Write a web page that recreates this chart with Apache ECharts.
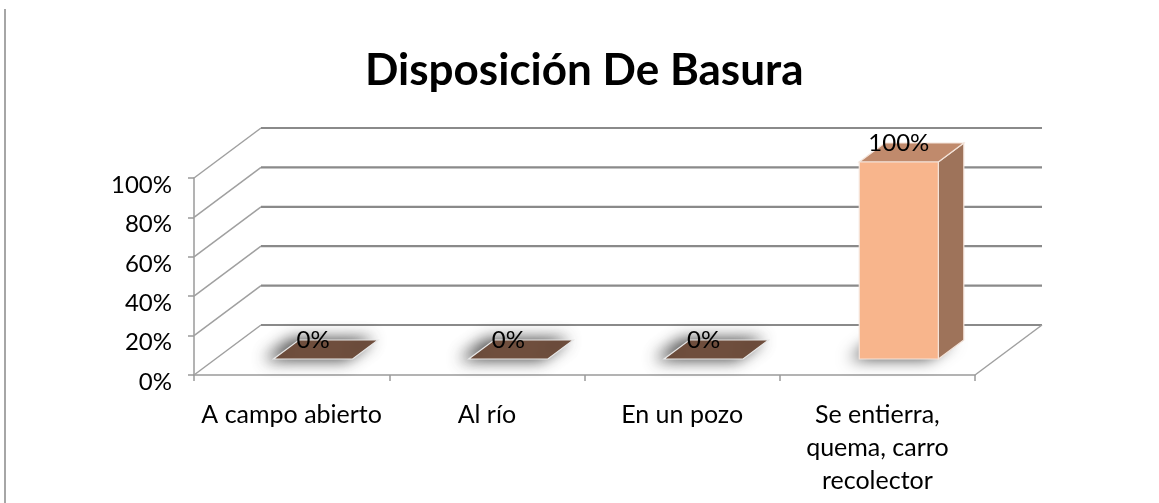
<!DOCTYPE html>
<html><head><meta charset="utf-8">
<script src="https://cdn.jsdelivr.net/npm/echarts@6/dist/echarts.min.js"></script>
<style>html,body{margin:0;padding:0;background:#fff}#c{width:1159px;height:503px}</style>
</head><body><div id="c"></div>
<script>
// ---- data ----
const categories = ['A campo abierto', 'Al río', 'En un pozo', 'Se entierra,\nquema, carro\nrecolector'];
const values = [0, 0, 0, 1];
const valueLabels = ['0%', '0%', '0%', '100%'];
const yTicks = [0, 0.2, 0.4, 0.6, 0.8, 1];

// ---- 3D look (styling constants) ----
const DEPTH_X = 67, DEPTH_Y = 50;
const BAR_FRONT = 0.32, BAR_DEPTH = 0.38, BAR_W = 0.405;
const FONT = 'Lato';

const chart = echarts.init(document.getElementById('c'));

function renderWall(params, api) {
  const v = api.value(1);
  const p = api.coord([0, v]);
  const catW = api.size([1, 0])[0];
  const x0 = p[0] - catW / 2;
  const x1 = api.coord([categories.length - 1, v])[0] + catW / 2;
  const y = p[1];
  const children = [
    { type: 'line', shape: { x1: x0, y1: y, x2: x0 + DEPTH_X, y2: y - DEPTH_Y }, style: { stroke: '#a0a0a0', lineWidth: 1.5 } },
    { type: 'line', shape: { x1: x0 + DEPTH_X, y1: y - DEPTH_Y, x2: x1 + DEPTH_X, y2: y - DEPTH_Y }, style: { stroke: '#8a8a8a', lineWidth: 2.2 } }
  ];
  if (v === 0) {
    children.push({ type: 'line', shape: { x1: x1, y1: y, x2: x1 + DEPTH_X, y2: y - DEPTH_Y }, style: { stroke: '#a0a0a0', lineWidth: 1.5 } });
  }
  return { type: 'group', children };
}

function renderBar(params, api) {
  const i = api.value(0), v = api.value(1);
  const base = api.coord([i, 0]);
  const top = api.coord([i, v]);
  const catW = api.size([1, 0])[0];
  const w = catW * BAR_W;
  const fx = base[0] + BAR_FRONT * DEPTH_X;
  const off = BAR_FRONT * DEPTH_Y;
  const xl = fx - w / 2, xr = fx + w / 2;
  const yb = base[1] - off, yt = top[1] - off;
  const dx = BAR_DEPTH * DEPTH_X, dy = BAR_DEPTH * DEPTH_Y;
  const children = [];
  const edge = '#f4e4da';
  if (v > 0) {
    // floor shadow
    children.push({ type: 'polygon', shape: { points: [[xl, yb], [xr, yb], [xr + dx, yb - dy], [xl + dx, yb - dy]] },
      style: { fill: '#666', shadowBlur: 16, shadowColor: 'rgba(0,0,0,0.75)', shadowOffsetX: -10, shadowOffsetY: 0 } });
    children.push({ type: 'polygon', shape: { points: [[xr, yt], [xr + dx, yt - dy], [xr + dx, yb - dy], [xr, yb]] },
      style: { fill: '#9e735a', stroke: edge, lineWidth: 1.2 } });
    children.push({ type: 'polygon', shape: { points: [[xl, yt], [xr, yt], [xr + dx, yt - dy], [xl + dx, yt - dy]] },
      style: { fill: '#c08a6c', stroke: edge, lineWidth: 1.2 } });
    children.push({ type: 'rect', shape: { x: xl, y: yt, width: w, height: yb - yt },
      style: { fill: '#f8b58c', stroke: edge, lineWidth: 1.2 } });
  } else {
    children.push({ type: 'polygon', shape: { points: [[xl, yb], [xr, yb], [xr + dx, yb - dy], [xl + dx, yb - dy]] },
      style: { fill: '#745240', stroke: '#e8e8e8', lineWidth: 1.2, shadowBlur: 16, shadowColor: 'rgba(0,0,0,0.8)', shadowOffsetX: -7 } });
  }
  children.push({ type: 'text', x: fx, y: yt - dy,
    style: { text: valueLabels[i], fill: '#000', font: '24px ' + FONT, align: 'center', verticalAlign: 'middle' } });
  return { type: 'group', children };
}

chart.setOption({
  animation: false,
  backgroundColor: '#fff',
  title: {
    text: 'Disposición De Basura', left: 360, top: 44,
    textStyle: { fontFamily: FONT, fontWeight: 'bold', fontSize: 44, color: '#000' }
  },
  graphic: [{ type: 'line', shape: { x1: 5, y1: 9, x2: 5, y2: 503 }, style: { stroke: '#a6a6a6', lineWidth: 2 } }],
  grid: { left: 194, right: 184, top: 178, bottom: 128 },
  xAxis: {
    type: 'category', data: categories,
    axisLine: { lineStyle: { color: '#9a9a9a', width: 1.5 } },
    axisTick: { show: true, length: 6, lineStyle: { color: '#9a9a9a', width: 1.5 } },
    axisLabel: { interval: 0, margin: 23, color: '#000', fontFamily: FONT, fontSize: 25, lineHeight: 33 }
  },
  yAxis: {
    type: 'value', min: 0, max: 1, interval: 0.2,
    axisLine: { show: true, lineStyle: { color: '#9a9a9a', width: 1.5 } },
    axisTick: { show: true, length: 6, lineStyle: { color: '#9a9a9a', width: 1.5 } },
    splitLine: { show: false },
    axisLabel: { margin: 22, color: '#000', fontFamily: FONT, fontSize: 24, verticalAlign: 'top', lineHeight: 14,
      formatter: v => Math.round(v * 100) + '%' }
  },
  series: [
    { type: 'custom', renderItem: renderWall, data: yTicks.map(v => [0, v]), silent: true, z: 1 },
    { type: 'custom', renderItem: renderBar, data: values.map((v, i) => [i, v]), z: 2 }
  ]
});
</script></body></html>
